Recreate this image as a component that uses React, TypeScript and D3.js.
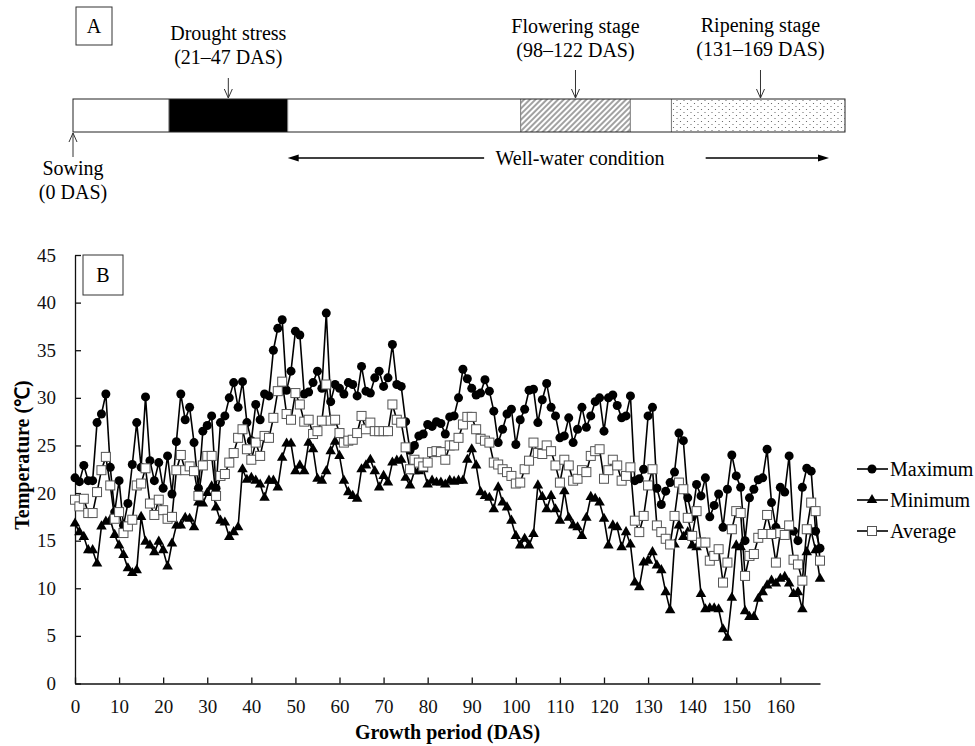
import React, { useEffect, useRef } from "react";
import * as d3 from "d3";

// daily temperatures, 0..169 DAS
const maxTemp = [
  21.6, 21.2, 22.9, 21.3, 21.3, 27.4, 28.3, 30.4, 22.7, 18.0,
  21.3, 16.6, 18.9, 23.0, 27.4, 22.7, 30.1, 23.4, 21.3, 23.2,
  20.5, 23.9, 19.9, 25.4, 30.4, 27.7, 29.0, 25.3, 20.5, 26.5,
  27.1, 28.1, 20.5, 27.4, 28.1, 30.0, 31.6, 29.0, 31.7, 27.4,
  25.5, 29.3, 27.7, 30.4, 30.2, 35.0, 37.3, 38.2, 30.8, 32.8,
  37.0, 36.6, 30.4, 30.6, 31.6, 32.8, 31.0, 38.9, 29.6, 31.4,
  31.0, 30.4, 31.6, 31.4, 30.2, 33.3, 30.7, 30.5, 32.1, 32.8,
  31.2, 32.1, 35.6, 31.4, 31.2, 27.5, 24.5, 25.0, 26.0, 26.2,
  27.2, 27.0, 27.5, 27.3, 26.2, 28.0, 28.1, 30.0, 33.0, 32.0,
  31.0, 30.3, 30.5, 31.9, 30.7, 28.6, 25.3, 26.7, 28.3, 28.8,
  25.1, 27.7, 28.8, 30.8, 30.9, 27.4, 29.8, 31.5, 29.0, 28.1,
  25.8, 26.0, 27.9, 25.3, 26.7, 29.0, 26.9, 28.1, 29.6, 30.0,
  26.5, 30.0, 30.3, 29.2, 27.9, 28.1, 30.2, 21.3, 21.5, 22.5,
  28.1, 29.0, 20.5, 18.8, 20.2, 21.1, 22.2, 26.3, 25.5, 19.5,
  17.5, 20.9, 19.7, 21.6, 17.5, 18.7, 19.9, 16.4, 20.4, 24.0,
  21.8, 20.6, 15.0, 19.5, 20.4, 21.4, 21.6, 24.6, 19.0, 16.4,
  20.6, 20.1, 23.9, 16.0, 15.0, 20.6, 22.6, 22.3, 16.0, 14.2,
];

const minTemp = [
  16.8, 15.9, 15.4, 14.0, 14.0, 12.6, 16.5, 17.0, 17.2, 15.6,
  14.5, 13.5, 12.1, 11.6, 11.9, 17.5, 14.9, 14.5, 13.8, 14.9,
  14.0, 12.3, 14.7, 16.6, 16.6, 17.4, 17.3, 16.4, 19.0, 18.9,
  20.0, 20.7, 18.5, 17.1, 16.9, 15.4, 15.9, 16.4, 22.5, 21.4,
  21.6, 21.3, 20.9, 19.5, 21.3, 21.3, 20.6, 23.7, 25.2, 25.2,
  22.3, 22.9, 22.3, 25.3, 24.6, 21.5, 21.3, 22.3, 24.4, 25.4,
  23.9, 21.3, 20.1, 19.7, 19.4, 22.5, 22.9, 23.5, 22.3, 20.6,
  21.8, 21.1, 23.2, 23.4, 23.5, 21.6, 20.8, 22.3, 22.3, 22.5,
  20.9, 21.3, 21.1, 21.1, 20.9, 21.3, 21.2, 21.3, 21.3, 23.5,
  24.6, 22.9, 20.1, 19.7, 19.5, 18.3, 20.6, 19.0, 18.5, 17.1,
  15.5, 14.5, 15.2, 14.5, 15.7, 20.8, 19.6, 18.3, 19.7, 18.3,
  17.1, 20.2, 17.4, 16.6, 16.4, 15.5, 17.4, 19.6, 19.4, 19.0,
  17.3, 14.5, 16.6, 16.4, 14.3, 15.9, 14.6, 10.6, 10.1, 12.7,
  12.9, 13.8, 12.4, 11.9, 9.6, 7.7, 14.6, 16.6, 15.4, 15.9,
  14.5, 14.3, 9.4, 7.8, 7.9, 7.9, 7.8, 5.7, 4.8, 9.0,
  14.5, 14.3, 7.6, 7.0, 7.0, 8.9, 9.6, 10.3, 10.8, 10.5,
  11.0, 11.2, 10.5, 9.4, 9.6, 7.8, 13.8, 16.0, 14.0, 11.0,
];

const avgTemp = [
  19.3, 18.6, 19.4, 17.9, 17.9, 20.1, 22.4, 23.8, 20.8, 17.3,
  18.0, 15.8, 16.5, 17.2, 20.8, 21.0, 22.6, 18.9, 17.7, 19.3,
  18.2, 17.3, 17.5, 22.4, 24.0, 22.4, 22.8, 22.3, 19.7, 22.9,
  23.9, 23.9, 19.7, 21.8, 22.0, 23.2, 24.2, 25.8, 26.7, 24.6,
  23.5, 25.3, 23.9, 26.0, 25.8, 27.9, 30.7, 31.7, 28.3, 27.7,
  30.5, 29.3, 27.5, 27.7, 26.2, 26.5, 27.6, 31.4, 27.6, 27.7,
  26.3, 25.3, 25.5, 25.6, 26.3, 28.1, 26.7, 27.4, 26.5, 26.5,
  26.5, 26.5, 29.3, 27.7, 27.4, 24.8, 22.5, 23.5, 23.2, 22.8,
  23.2, 24.3, 24.4, 24.3, 23.5, 25.0, 25.0, 25.8, 27.2, 28.0,
  28.0, 26.7, 25.7, 25.5, 25.3, 23.2, 23.0, 22.5, 22.2, 21.8,
  21.0, 21.1, 22.5, 23.4, 25.3, 24.2, 24.1, 25.0, 24.4, 22.9,
  21.1, 23.5, 22.9, 21.3, 21.5, 22.4, 22.2, 23.9, 24.4, 24.6,
  21.5, 22.4, 23.5, 22.9, 21.3, 21.8, 22.7, 17.1, 15.9, 17.6,
  20.8, 22.5, 16.6, 15.9, 15.2, 14.6, 17.6, 21.1, 20.4, 17.4,
  15.5, 18.1, 14.8, 14.8, 12.9, 13.4, 14.1, 10.6, 12.7, 16.2,
  18.1, 17.9, 11.3, 13.4, 13.6, 15.3, 15.7, 17.7, 15.7, 12.7,
  15.8, 15.6, 16.6, 13.0, 12.5, 10.8, 16.2, 19.0, 18.1, 12.9,
];

const xTicks = [0, 10, 20, 30, 40, 50, 60, 70, 80, 90, 100, 110, 120, 130, 140, 150, 160];
const yTicks = [0, 5, 10, 15, 20, 25, 30, 35, 40, 45];
const seriesNames = ["Maximum", "Minimum", "Average"];

// panel A: growth stages (DAS)
const barSegments = [
  { start: 0, end: 21, fill: "white" },
  { start: 21, end: 47, fill: "black" },
  { start: 47, end: 98, fill: "white" },
  { start: 98, end: 122, fill: "url(#hatch)" },
  { start: 122, end: 131, fill: "white" },
  { start: 131, end: 169, fill: "url(#dots)" },
];
const stageLabels = [
  { title: "Drought stress", range: "(21–47 DAS)", at: 34, top: 40, arrowTop: 78 },
  { title: "Flowering stage", range: "(98–122 DAS)", at: 110, top: 33, arrowTop: 70 },
  { title: "Ripening stage", range: "(131–169 DAS)", at: 150.5, top: 32, arrowTop: 70 },
];

const FONT = "'Liberation Serif', 'Times New Roman', serif";

export default function App() {
  const ref = useRef<SVGSVGElement>(null);

  useEffect(() => {
    const svg = d3.select(ref.current);
    svg.selectAll("*").remove();
    svg.style("font-family", FONT);

    const defs = svg.append("defs");
    const hatch = defs.append("pattern").attr("id", "hatch")
      .attr("patternUnits", "userSpaceOnUse").attr("width", 4).attr("height", 4)
      .attr("patternTransform", "rotate(45)");
    hatch.append("rect").attr("width", 4).attr("height", 4).attr("fill", "white");
    hatch.append("line").attr("x1", 1).attr("y1", 0).attr("x2", 1).attr("y2", 4)
      .attr("stroke", "#444").attr("stroke-width", 1);
    const dots = defs.append("pattern").attr("id", "dots")
      .attr("patternUnits", "userSpaceOnUse").attr("width", 7).attr("height", 6);
    dots.append("rect").attr("width", 7).attr("height", 6).attr("fill", "white");
    dots.append("circle").attr("cx", 1.5).attr("cy", 1.5).attr("r", 0.6).attr("fill", "#555");
    dots.append("circle").attr("cx", 5).attr("cy", 4.5).attr("r", 0.6).attr("fill", "#555");

    // ---------- panel A ----------
    const ax = d3.scaleLinear().domain([0, 169]).range([73, 845]);
    const barTop = 99, barBot = 132;
    const pa = svg.append("g");

    pa.append("rect").attr("x", 76).attr("y", 7).attr("width", 36).attr("height", 38)
      .attr("fill", "white").attr("stroke", "#333");
    pa.append("text").attr("x", 94).attr("y", 33).attr("text-anchor", "middle")
      .style("font-size", "20px").text("A");

    pa.selectAll(".seg").data(barSegments).join("rect").attr("class", "seg")
      .attr("x", d => ax(d.start)).attr("y", barTop)
      .attr("width", d => ax(d.end) - ax(d.start)).attr("height", barBot - barTop)
      .attr("fill", d => d.fill);
    pa.selectAll(".div").data(barSegments.slice(1)).join("line").attr("class", "div")
      .attr("x1", d => ax(d.start)).attr("x2", d => ax(d.start))
      .attr("y1", barTop).attr("y2", barBot).attr("stroke", "#777");
    pa.append("rect").attr("x", ax(0)).attr("y", barTop)
      .attr("width", ax(169) - ax(0)).attr("height", barBot - barTop)
      .attr("fill", "none").attr("stroke", "#222").attr("stroke-width", 1);

    const lab = pa.selectAll(".stage").data(stageLabels).join("g").attr("class", "stage");
    lab.append("text").attr("x", d => ax(d.at)).attr("y", d => d.top)
      .attr("text-anchor", "middle").style("font-size", "20px").text(d => d.title);
    lab.append("text").attr("x", d => ax(d.at)).attr("y", d => d.top + 24)
      .attr("text-anchor", "middle").style("font-size", "20px").text(d => d.range);
    lab.append("line").attr("x1", d => ax(d.at)).attr("x2", d => ax(d.at))
      .attr("y1", d => d.arrowTop).attr("y2", barTop - 1).attr("stroke", "#333");
    lab.append("path")
      .attr("d", d => `M${ax(d.at) - 4},${barTop - 10}L${ax(d.at)},${barTop - 1}L${ax(d.at) + 4},${barTop - 10}`)
      .attr("fill", "none").attr("stroke", "#333");

    // sowing
    pa.append("line").attr("x1", ax(0)).attr("x2", ax(0)).attr("y1", 157).attr("y2", barBot + 1)
      .attr("stroke", "#333");
    pa.append("path").attr("d", `M${ax(0) - 4},${barBot + 10}L${ax(0)},${barBot + 1}L${ax(0) + 4},${barBot + 10}`)
      .attr("fill", "none").attr("stroke", "#333");
    pa.append("text").attr("x", ax(0)).attr("y", 175).attr("text-anchor", "middle")
      .style("font-size", "20px").text("Sowing");
    pa.append("text").attr("x", ax(0)).attr("y", 199).attr("text-anchor", "middle")
      .style("font-size", "20px").text("(0 DAS)");

    // well-water condition
    const wy = 158;
    pa.append("text").attr("x", ax(111)).attr("y", 165).attr("text-anchor", "middle")
      .style("font-size", "20px").text("Well-water condition");
    pa.append("line").attr("x1", ax(47) + 8).attr("x2", ax(90)).attr("y1", wy).attr("y2", wy)
      .attr("stroke", "black").attr("stroke-width", 1.3);
    pa.append("path").attr("d", `M${ax(47)},${wy}L${ax(47) + 11},${wy - 3.5}L${ax(47) + 11},${wy + 3.5}Z`)
      .attr("fill", "black");
    pa.append("line").attr("x1", ax(138.5)).attr("x2", ax(165.5) - 8).attr("y1", wy).attr("y2", wy)
      .attr("stroke", "black").attr("stroke-width", 1.3);
    pa.append("path").attr("d", `M${ax(165.5)},${wy}L${ax(165.5) - 11},${wy - 3.5}L${ax(165.5) - 11},${wy + 3.5}Z`)
      .attr("fill", "black");

    // ---------- panel B ----------
    const x = d3.scaleLinear().domain([0, 169]).range([75, 820]);
    const y = d3.scaleLinear().domain([0, 45]).range([683.5, 255]);
    const pb = svg.append("g");

    const xAxis = pb.append("g").attr("transform", `translate(0,${y(0)})`)
      .call(d3.axisBottom(x).tickValues(xTicks).tickSize(-6).tickSizeOuter(0).tickPadding(16));
    const yAxis = pb.append("g").attr("transform", `translate(${x(0)},0)`)
      .call(d3.axisLeft(y).tickValues(yTicks).tickSize(-6).tickSizeOuter(0).tickPadding(19));
    [xAxis, yAxis].forEach(g => {
      g.attr("font-family", FONT).attr("font-size", 19);
      g.selectAll("path, line").attr("stroke", "#111").attr("stroke-width", 1.3);
      g.selectAll("text").attr("fill", "#111");
    });

    pb.append("text").attr("x", (x(0) + x(169)) / 2).attr("y", 739).attr("text-anchor", "middle")
      .style("font-size", "20px").style("font-weight", "bold").text("Growth period (DAS)");
    pb.append("text").attr("transform", `translate(29,${y(24)}) rotate(-90)`)
      .attr("text-anchor", "middle").style("font-size", "20px").style("font-weight", "bold")
      .text("Temperature (℃)");

    const line = d3.line<number>().x((d, i) => x(i)).y(d => y(d));
    const tri = d3.symbol().type(d3.symbolTriangle).size(48);

    // maximum
    pb.append("path").datum(maxTemp).attr("d", line).attr("fill", "none")
      .attr("stroke", "black").attr("stroke-width", 1.6);
    pb.selectAll(".mx").data(maxTemp).join("circle").attr("class", "mx")
      .attr("cx", (d, i) => x(i)).attr("cy", d => y(d)).attr("r", 4.5).attr("fill", "black");

    // minimum
    pb.append("path").datum(minTemp).attr("d", line).attr("fill", "none")
      .attr("stroke", "black").attr("stroke-width", 1.6);
    pb.selectAll(".mn").data(minTemp).join("path").attr("class", "mn")
      .attr("d", tri).attr("transform", (d, i) => `translate(${x(i)},${y(d)})`).attr("fill", "black");

    // average
    pb.append("path").datum(avgTemp).attr("d", line).attr("fill", "none")
      .attr("stroke", "black").attr("stroke-width", 1.6);
    pb.selectAll(".av").data(avgTemp).join("rect").attr("class", "av")
      .attr("x", (d, i) => x(i) - 4.5).attr("y", d => y(d) - 4.5)
      .attr("width", 9).attr("height", 9)
      .attr("fill", "white").attr("stroke", "#555").attr("stroke-width", 1);

    // legend
    const leg = pb.selectAll(".leg").data(seriesNames).join("g").attr("class", "leg")
      .attr("transform", (d, i) => `translate(0,${469 + i * 31})`);
    leg.append("line").attr("x1", 857).attr("x2", 888).attr("stroke", "black").attr("stroke-width", 1.6);
    leg.each(function (d, i) {
      const g = d3.select(this);
      if (i === 0) g.append("circle").attr("cx", 872).attr("r", 4.5).attr("fill", "black");
      if (i === 1) g.append("path").attr("d", tri).attr("transform", "translate(872,0)").attr("fill", "black");
      if (i === 2) g.append("rect").attr("x", 867.5).attr("y", -4.5).attr("width", 9).attr("height", 9)
        .attr("fill", "white").attr("stroke", "#555");
    });
    leg.append("text").attr("x", 890).attr("y", 6.5).style("font-size", "20px").text(d => d);

    // "B" label
    pb.append("rect").attr("x", 83).attr("y", 255).attr("width", 40).attr("height", 40)
      .attr("fill", "white").attr("stroke", "#333");
    pb.append("text").attr("x", 103).attr("y", 282).attr("text-anchor", "middle")
      .style("font-size", "20px").text("B");
  }, []);

  return (
    <svg ref={ref} width={975} height={746}
      style={{ position: "absolute", left: 0, top: 0, background: "white" }} />
  );
}
